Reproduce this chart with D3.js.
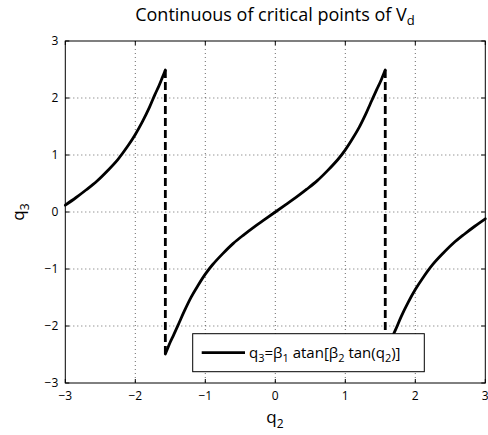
<!DOCTYPE html>
<html><head><meta charset="utf-8">
<script src="https://cdn.jsdelivr.net/npm/d3@7/dist/d3.min.js"></script>
<style>body{margin:0;background:#fff}svg{display:block}text{font-family:"Open Sans","Noto Sans",sans-serif;fill:#000}</style>
</head><body>
<script>
const xTicks = [-3,-2,-1,0,1,2,3];
const yTicks = [-3,-2,-1,0,1,2,3];
const leftQ2 = [-3,-2.85,-2.7,-2.55,-2.4,-2.25,-2.1,-2.0,-1.9,-1.8,-1.72,-1.66,-1.62,-1.59,-1.5708];
const leftQ3 = [0.12,0.25,0.39,0.54,0.72,0.92,1.17,1.36,1.58,1.83,2.06,2.22,2.34,2.43,2.49];
const midQ2 = [-1.5708,-1.54,-1.5,-1.45,-1.38,-1.3,-1.2,-1.1,-1.0,-0.9,-0.75,-0.6,-0.45,-0.3,-0.15,0,0.15,0.3,0.45,0.6,0.75,0.9,1.0,1.1,1.2,1.3,1.38,1.45,1.5,1.54,1.5708];
const midQ3 = [-2.49,-2.4,-2.28,-2.15,-1.96,-1.74,-1.49,-1.28,-1.09,-0.93,-0.73,-0.55,-0.4,-0.26,-0.13,0,0.13,0.26,0.4,0.55,0.73,0.93,1.09,1.28,1.49,1.74,1.96,2.15,2.28,2.4,2.49];
const rightQ2 = [1.5708,1.59,1.62,1.66,1.72,1.8,1.9,2.0,2.1,2.25,2.4,2.55,2.7,2.85,3.0];
const rightQ3 = [-2.49,-2.43,-2.34,-2.22,-2.06,-1.83,-1.58,-1.36,-1.17,-0.92,-0.72,-0.54,-0.39,-0.25,-0.12];
const jumpQ2 = [-1.5708, 1.5708];
const jumpQ3 = [2.49, -2.49];

const W = 488, H = 435;
const svg = d3.select("body").append("svg").attr("width", W).attr("height", H);
const x = d3.scaleLinear().domain([-3,3]).range([65.3,485.3]);
const y = d3.scaleLinear().domain([-3,3]).range([383,41]);
const fmt = d => d < 0 ? "\u2212" + Math.abs(d) : String(d);

// grid
const g = svg.append("g");
g.selectAll(".gx").data(xTicks.slice(1,-1)).enter().append("line")
  .attr("x1", d=>x(d)).attr("x2", d=>x(d)).attr("y1", y(3)).attr("y2", y(-3))
  .attr("stroke","#444").attr("stroke-width",0.8).attr("stroke-dasharray","1,3");
g.selectAll(".gy").data(yTicks.slice(1,-1)).enter().append("line")
  .attr("y1", d=>y(d)).attr("y2", d=>y(d)).attr("x1", x(-3)).attr("x2", x(3))
  .attr("stroke","#444").attr("stroke-width",0.8).attr("stroke-dasharray","1,3");

// curves
const line = d3.line().x(d=>x(d[0])).y(d=>y(d[1])).curve(d3.curveCatmullRom.alpha(0.5));
[[leftQ2,leftQ3],[midQ2,midQ3],[rightQ2,rightQ3]].forEach(([a,b])=>{
  svg.append("path").datum(a.map((v,i)=>[v,b[i]])).attr("d", line)
    .attr("fill","none").attr("stroke","#000").attr("stroke-width",2.8)
    .attr("stroke-linejoin","round").attr("stroke-linecap","round");
});
// dashed jumps
jumpQ2.forEach(q=>{
  svg.append("line").attr("x1",x(q)).attr("x2",x(q)).attr("y1",y(jumpQ3[0])).attr("y2",y(jumpQ3[1]))
    .attr("stroke","#000").attr("stroke-width",2.8).attr("stroke-dasharray","8,4");
});

// legend
const lg = svg.append("g");
lg.append("rect").attr("x",192.7).attr("y",333.7).attr("width",231.6).attr("height",38)
  .attr("fill","#fff").attr("stroke","#000").attr("stroke-width",1);
lg.append("line").attr("x1",201.7).attr("x2",245).attr("y1",352.7).attr("y2",352.7)
  .attr("stroke","#000").attr("stroke-width",2.8);
const lt = lg.append("text").attr("x",249).attr("y",358).attr("font-size",15);
lt.append("tspan").text("q");
lt.append("tspan").attr("font-size",11).attr("dy",4).text("3");
lt.append("tspan").attr("dy",-4).text("=\u03b2");
lt.append("tspan").attr("font-size",11).attr("dy",4).text("1");
lt.append("tspan").attr("dy",-4).text(" atan[\u03b2");
lt.append("tspan").attr("font-size",11).attr("dy",4).text("2");
lt.append("tspan").attr("dy",-4).text(" tan(q");
lt.append("tspan").attr("font-size",11).attr("dy",4).text("2");
lt.append("tspan").attr("dy",-4).text(")]");

// axes box
svg.append("rect").attr("x",x(-3)).attr("y",y(3)).attr("width",x(3)-x(-3)).attr("height",y(-3)-y(3))
  .attr("fill","none").attr("stroke","#000").attr("stroke-width",1);
const tl = 4;
xTicks.forEach(t=>{
  svg.append("line").attr("x1",x(t)).attr("x2",x(t)).attr("y1",y(-3)).attr("y2",y(-3)-tl).attr("stroke","#000");
  svg.append("line").attr("x1",x(t)).attr("x2",x(t)).attr("y1",y(3)).attr("y2",y(3)+tl).attr("stroke","#000");
  svg.append("text").attr("x",x(t)).attr("y",y(-3)+17).attr("text-anchor","middle").attr("font-size",12).text(fmt(t));
});
yTicks.forEach(t=>{
  svg.append("line").attr("y1",y(t)).attr("y2",y(t)).attr("x1",x(-3)).attr("x2",x(-3)+tl).attr("stroke","#000");
  svg.append("line").attr("y1",y(t)).attr("y2",y(t)).attr("x1",x(3)).attr("x2",x(3)-tl).attr("stroke","#000");
  svg.append("text").attr("x",x(-3)-7).attr("y",y(t)+4).attr("text-anchor","end").attr("font-size",12).text(fmt(t));
});

// axis labels
const xl = svg.append("text").attr("x",275).attr("y",423).attr("text-anchor","middle").attr("font-size",17);
xl.append("tspan").text("q");
xl.append("tspan").attr("font-size",12).attr("dy",5).text("2");
const yl = svg.append("text").attr("transform","translate(24,212) rotate(-90)").attr("text-anchor","middle").attr("font-size",17);
yl.append("tspan").text("q");
yl.append("tspan").attr("font-size",12).attr("dy",5).text("3");

// title
const tt = svg.append("text").attr("x",275).attr("y",21).attr("text-anchor","middle").attr("font-size",18);
tt.append("tspan").text("Continuous of critical points of V");
tt.append("tspan").attr("font-size",13).attr("dy",4).text("d");
</script>
</body></html>
